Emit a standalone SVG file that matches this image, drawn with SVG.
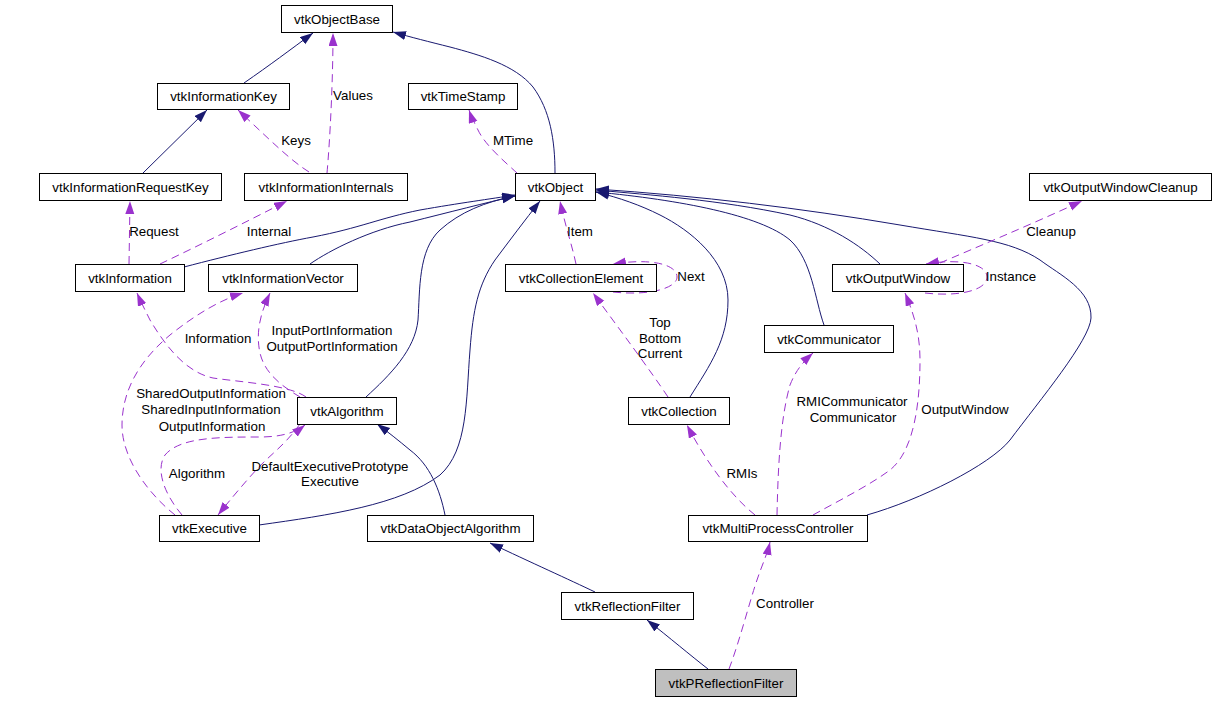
<svg xmlns="http://www.w3.org/2000/svg" width="1216" height="701" viewBox="0 0 1216 701">
<style>
.n rect{fill:#fff;stroke:#000;stroke-width:1}
.n text,.l{font-family:"Liberation Sans",Arial,sans-serif;font-size:13.33px;fill:#000;text-anchor:middle}
.i{fill:none;stroke:#191970;stroke-width:1;marker-end:url(#ai)}
.u{fill:none;stroke:#9a32cd;stroke-width:1;stroke-dasharray:8,5;marker-end:url(#au)}
</style>
<defs>
<marker id="ai" markerUnits="userSpaceOnUse" markerWidth="14" markerHeight="10" refX="13" refY="4.5" orient="auto"><path d="M0,0 L13,4.5 L0,9 z" fill="#191970"/></marker>
<marker id="au" markerUnits="userSpaceOnUse" markerWidth="14" markerHeight="10" refX="13" refY="4.5" orient="auto"><path d="M0,0 L13,4.5 L0,9 z" fill="#9a32cd"/></marker>
</defs>
<rect width="1216" height="701" fill="#fff"/>
<g id="edges">
<path class="i" d="M244,83 C270,65 290,50 313,33"/>
<path class="i" d="M143,173 L207,110"/>
<path class="u" d="M327,173 C330,140 333,80 333,33"/>
<path class="u" d="M309,172 C290,160 270,140 238,110"/>
<path class="u" d="M129,264 L130,201"/>
<path class="u" d="M160,264 C200,245 250,220 287,201"/>
<path class="i" d="M184,267 C230,255 280,243 313,237 C360,228 380,218 420,210 C460,203 490,199 515,195"/>
<path class="i" d="M310,264 C330,250 370,230 410,222 C450,212 485,203 515,196"/>
<path class="u" d="M517,173 C505,162 485,145 478,130 C474,122 471,116 469,110"/>
<path class="i" d="M555,173 C555,140 550,110 533,87 C515,65 480,55 450,47 C430,42 410,37 393,32"/>
<path class="u" d="M576,264 C572,245 565,225 560,201"/>
<path class="u" d="M613,292 C650,296 677,288 677,277 C677,264 650,258 613,264"/>
<path class="i" d="M366,397 C390,375 415,350 418,320 C420,290 418,250 440,230 C460,212 485,202 515,196"/>
<path class="i" d="M259,525 C330,515 400,505 440,475 C468,450 466,400 470,350 C473,310 478,285 495,260 C510,240 525,220 540,201"/>
<path class="i" d="M445,515 C440,490 430,465 410,450 C398,440 388,432 377,424"/>
<path class="i" d="M690,397 C710,365 728,340 728,300 C728,260 690,230 660,215 C640,205 620,198 596,192"/>
<path class="u" d="M668,397 C650,370 620,330 593,293"/>
<path class="i" d="M824,325 C815,300 812,260 790,240 C760,215 680,200 596,192"/>
<path class="i" d="M880,264 C860,245 830,225 790,215 C720,200 650,195 596,190"/>
<path class="i" d="M867,515 C920,500 990,465 1010,440 C1040,400 1090,340 1091,318 C1092,290 1060,275 1040,260 C1010,240 970,237 900,225 C800,208 700,196 596,189"/>
<path class="u" d="M940,263 C970,250 1030,225 1082,201"/>
<path class="u" d="M925,293 C960,297 987,290 987,277 C987,264 960,258 926,264"/>
<path class="u" d="M813,515 C840,500 870,485 890,470 C915,450 920,400 920,360 C920,330 912,310 905,293"/>
<path class="u" d="M777,515 C778,470 780,420 790,385 C796,370 803,362 813,353"/>
<path class="u" d="M755,515 C730,495 705,460 687,425"/>
<path class="i" d="M595,592 C570,580 530,562 490,543"/>
<path class="i" d="M708,669 C690,655 670,638 647,620"/>
<path class="u" d="M729,669 C740,640 750,600 757,580 C762,565 767,555 770,542"/>
<path class="u" d="M306,397 C290,385 240,382 213,378 C185,372 165,345 150,320 C145,310 140,300 137,293"/>
<path class="u" d="M300,397 C285,388 265,375 260,353 C255,330 262,310 270,293"/>
<path class="u" d="M175,515 C150,495 122,460 122,425 C122,390 140,360 170,335 C195,315 220,300 243,293"/>
<path class="u" d="M182,515 C165,495 155,470 165,455 C180,437 220,437 260,437 C280,437 295,433 305,425"/>
<path class="u" d="M300,424 C285,445 270,455 258,468 C245,482 230,500 218,515"/>
</g>
<g id="labels">
<text class="l" x="353" y="100">Values</text>
<text class="l" x="296" y="145">Keys</text>
<text class="l" x="154" y="236">Request</text>
<text class="l" x="269" y="236">Internal</text>
<text class="l" x="513" y="145">MTime</text>
<text class="l" x="580" y="236">Item</text>
<text class="l" x="691" y="281">Next</text>
<text class="l" x="1051" y="236">Cleanup</text>
<text class="l" x="1011" y="281">Instance</text>
<text class="l" x="218" y="343">Information</text>
<text class="l" x="332" y="335">InputPortInformation</text>
<text class="l" x="332" y="351">OutputPortInformation</text>
<text class="l" x="211" y="398">SharedOutputInformation</text>
<text class="l" x="211" y="414">SharedInputInformation</text>
<text class="l" x="212" y="431">OutputInformation</text>
<text class="l" x="197" y="478">Algorithm</text>
<text class="l" x="330" y="471">DefaultExecutivePrototype</text>
<text class="l" x="330" y="486">Executive</text>
<text class="l" x="660" y="327">Top</text>
<text class="l" x="660" y="343">Bottom</text>
<text class="l" x="660" y="358">Current</text>
<text class="l" x="742" y="478">RMIs</text>
<text class="l" x="852" y="406">RMICommunicator</text>
<text class="l" x="853" y="422">Communicator</text>
<text class="l" x="965" y="414">OutputWindow</text>
<text class="l" x="785" y="608">Controller</text>
</g>
<g id="vtkObjectBase" class="n"><rect x="281.5" y="5.5" width="111" height="27"/><text x="337" y="23.5">vtkObjectBase</text></g>
<g id="vtkInformationKey" class="n"><rect x="157.5" y="83.5" width="132" height="26"/><text x="223.5" y="101">vtkInformationKey</text></g>
<g id="vtkTimeStamp" class="n"><rect x="408.5" y="83.5" width="109" height="26"/><text x="463" y="101">vtkTimeStamp</text></g>
<g id="vtkInformationRequestKey" class="n"><rect x="39.5" y="173.5" width="182" height="27"/><text x="130.5" y="191.5">vtkInformationRequestKey</text></g>
<g id="vtkInformationInternals" class="n"><rect x="244.5" y="173.5" width="163" height="27"/><text x="326" y="191.5">vtkInformationInternals</text></g>
<g id="vtkObject" class="n"><rect x="515.5" y="173.5" width="80" height="27"/><text x="555.5" y="191.5">vtkObject</text></g>
<g id="vtkOutputWindowCleanup" class="n"><rect x="1029.5" y="173.5" width="182" height="27"/><text x="1120.5" y="191.5">vtkOutputWindowCleanup</text></g>
<g id="vtkInformation" class="n"><rect x="75.5" y="264.5" width="109" height="27"/><text x="130" y="282.5">vtkInformation</text></g>
<g id="vtkInformationVector" class="n"><rect x="208.5" y="264.5" width="149" height="27"/><text x="283" y="282.5">vtkInformationVector</text></g>
<g id="vtkCollectionElement" class="n"><rect x="505.5" y="264.5" width="151" height="27"/><text x="581" y="282.5">vtkCollectionElement</text></g>
<g id="vtkOutputWindow" class="n"><rect x="832.5" y="264.5" width="131" height="27"/><text x="898" y="282.5">vtkOutputWindow</text></g>
<g id="vtkCommunicator" class="n"><rect x="764.5" y="325.5" width="129" height="27"/><text x="829" y="343.5">vtkCommunicator</text></g>
<g id="vtkAlgorithm" class="n"><rect x="297.5" y="397.5" width="99" height="27"/><text x="347" y="415.5">vtkAlgorithm</text></g>
<g id="vtkCollection" class="n"><rect x="628.5" y="397.5" width="101" height="27"/><text x="679" y="415.5">vtkCollection</text></g>
<g id="vtkExecutive" class="n"><rect x="159.5" y="515.5" width="100" height="26"/><text x="209.5" y="533">vtkExecutive</text></g>
<g id="vtkDataObjectAlgorithm" class="n"><rect x="367.5" y="515.5" width="166" height="26"/><text x="450.5" y="533">vtkDataObjectAlgorithm</text></g>
<g id="vtkMultiProcessController" class="n"><rect x="688.5" y="515.5" width="179" height="26"/><text x="778" y="533">vtkMultiProcessController</text></g>
<g id="vtkReflectionFilter" class="n"><rect x="561.5" y="592.5" width="132" height="27"/><text x="627.5" y="610.5">vtkReflectionFilter</text></g>
<g id="vtkPReflectionFilter" class="n"><rect x="655.5" y="669.5" width="141" height="27" style="fill:#bfbfbf"/><text x="726" y="687.5">vtkPReflectionFilter</text></g>
</svg>
